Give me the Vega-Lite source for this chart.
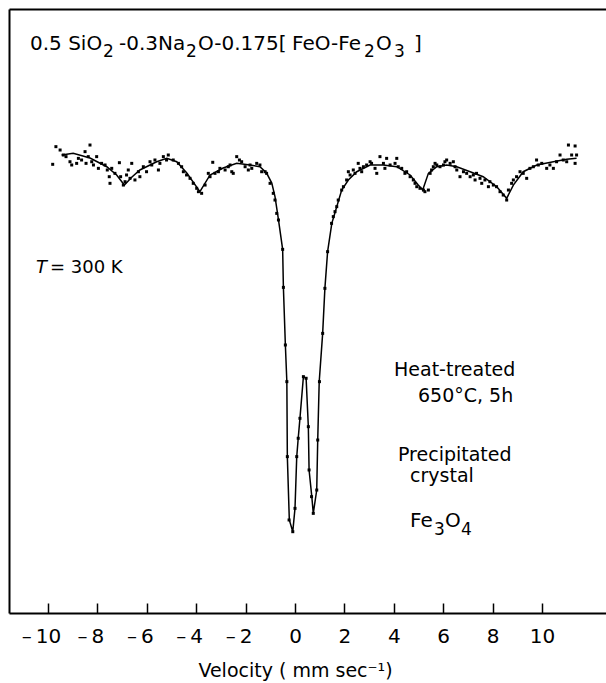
{
  "$schema": "https://vega.github.io/schema/vega-lite/v6.json",
  "width": 597,
  "height": 604,
  "autosize": "none",
  "padding": {"left": 9, "top": 9, "right": 0, "bottom": 70},
  "background": "white",
  "config": {"view": {"stroke": null}, "font": "DejaVu Sans"},
  "datasets": {
    "fit": [
      {"v": -9.45, "t": 99.48}, {"v": -8.98, "t": 99.66}, {"v": -8.30, "t": 99.17}, {"v": -7.62, "t": 98.26},
      {"v": -7.22, "t": 97.40}, {"v": -6.91, "t": 96.35}, {"v": -6.60, "t": 97.19}, {"v": -6.28, "t": 97.92},
      {"v": -5.60, "t": 98.78}, {"v": -5.19, "t": 99.14}, {"v": -4.79, "t": 98.78}, {"v": -4.38, "t": 97.60},
      {"v": -3.85, "t": 95.66}, {"v": -3.44, "t": 97.40}, {"v": -2.91, "t": 98.13}, {"v": -2.36, "t": 98.61},
      {"v": -1.82, "t": 98.44}, {"v": -1.42, "t": 98.26}, {"v": -1.15, "t": 97.60}, {"v": -0.94, "t": 96.56},
      {"v": -0.81, "t": 95.14}, {"v": -0.68, "t": 92.92}, {"v": -0.50, "t": 89.66}, {"v": -0.47, "t": 85.70},
      {"v": -0.39, "t": 79.69}, {"v": -0.33, "t": 75.86}, {"v": -0.31, "t": 68.05}, {"v": -0.23, "t": 61.46},
      {"v": -0.09, "t": 60.24}, {"v": 0.00, "t": 62.68}, {"v": 0.07, "t": 68.05}, {"v": 0.13, "t": 69.97},
      {"v": 0.20, "t": 72.05}, {"v": 0.34, "t": 76.39}, {"v": 0.45, "t": 76.22}, {"v": 0.54, "t": 71.18},
      {"v": 0.57, "t": 66.67}, {"v": 0.68, "t": 63.89}, {"v": 0.74, "t": 62.15}, {"v": 0.88, "t": 64.58},
      {"v": 0.92, "t": 69.79}, {"v": 0.98, "t": 75.86}, {"v": 1.12, "t": 80.90}, {"v": 1.21, "t": 85.59},
      {"v": 1.32, "t": 89.41}, {"v": 1.49, "t": 92.36}, {"v": 1.69, "t": 94.09}, {"v": 1.89, "t": 95.83},
      {"v": 2.16, "t": 96.88}, {"v": 2.50, "t": 97.74}, {"v": 3.04, "t": 98.44}, {"v": 3.57, "t": 98.44},
      {"v": 4.12, "t": 98.26}, {"v": 4.66, "t": 97.40}, {"v": 4.99, "t": 96.35}, {"v": 5.17, "t": 95.83},
      {"v": 5.40, "t": 97.57}, {"v": 5.74, "t": 98.26}, {"v": 6.14, "t": 98.44}, {"v": 6.55, "t": 98.26},
      {"v": 7.09, "t": 97.74}, {"v": 7.62, "t": 97.22}, {"v": 8.17, "t": 96.18}, {"v": 8.57, "t": 94.97},
      {"v": 8.84, "t": 96.35}, {"v": 9.24, "t": 97.74}, {"v": 9.79, "t": 98.44}, {"v": 10.46, "t": 98.78},
      {"v": 11.00, "t": 99.03}, {"v": 11.40, "t": 99.14}
    ],
    "obs": [
      {"v": -9.81, "t": 98.51}, {"v": -9.68, "t": 100.35}, {"v": -9.51, "t": 100.0}, {"v": -9.38, "t": 99.48},
      {"v": -9.27, "t": 99.31}, {"v": -9.11, "t": 98.78}, {"v": -9.04, "t": 98.44}, {"v": -8.84, "t": 98.61},
      {"v": -8.77, "t": 99.13}, {"v": -8.64, "t": 98.96}, {"v": -8.50, "t": 99.83}, {"v": -8.46, "t": 98.61},
      {"v": -8.30, "t": 100.52}, {"v": -8.37, "t": 99.31}, {"v": -8.23, "t": 98.78}, {"v": -8.16, "t": 98.44},
      {"v": -8.03, "t": 99.31}, {"v": -7.96, "t": 98.09}, {"v": -7.83, "t": 98.61}, {"v": -7.69, "t": 98.44},
      {"v": -7.60, "t": 97.92}, {"v": -7.52, "t": 97.22}, {"v": -7.49, "t": 96.53}, {"v": -7.42, "t": 98.09},
      {"v": -7.29, "t": 97.57}, {"v": -7.11, "t": 98.68}, {"v": -7.06, "t": 97.22}, {"v": -6.95, "t": 96.35},
      {"v": -6.88, "t": 96.70}, {"v": -6.82, "t": 97.40}, {"v": -6.75, "t": 97.92}, {"v": -6.68, "t": 97.05},
      {"v": -6.61, "t": 98.61}, {"v": -6.48, "t": 96.88}, {"v": -6.34, "t": 97.74}, {"v": -6.28, "t": 97.22},
      {"v": -6.14, "t": 98.26}, {"v": -6.01, "t": 97.74}, {"v": -5.87, "t": 98.78}, {"v": -5.80, "t": 98.44},
      {"v": -5.67, "t": 98.96}, {"v": -5.53, "t": 97.92}, {"v": -5.47, "t": 98.61}, {"v": -5.33, "t": 99.31},
      {"v": -5.20, "t": 98.96}, {"v": -5.13, "t": 99.48}, {"v": -4.93, "t": 98.96}, {"v": -4.72, "t": 98.61},
      {"v": -4.59, "t": 98.26}, {"v": -4.52, "t": 97.74}, {"v": -4.39, "t": 97.40}, {"v": -4.25, "t": 97.05},
      {"v": -4.12, "t": 96.53}, {"v": -3.98, "t": 96.01}, {"v": -3.91, "t": 95.66}, {"v": -3.78, "t": 95.49},
      {"v": -3.64, "t": 96.35}, {"v": -3.51, "t": 97.57}, {"v": -3.44, "t": 97.22}, {"v": -3.33, "t": 98.72},
      {"v": -3.24, "t": 97.57}, {"v": -3.10, "t": 97.74}, {"v": -3.04, "t": 98.09}, {"v": -2.83, "t": 97.92},
      {"v": -2.70, "t": 98.26}, {"v": -2.63, "t": 98.44}, {"v": -2.56, "t": 97.74}, {"v": -2.50, "t": 97.57},
      {"v": -2.36, "t": 99.31}, {"v": -2.25, "t": 98.96}, {"v": -2.16, "t": 98.78}, {"v": -2.02, "t": 98.26},
      {"v": -1.89, "t": 97.92}, {"v": -1.82, "t": 98.44}, {"v": -1.75, "t": 98.09}, {"v": -1.55, "t": 98.61},
      {"v": -1.42, "t": 98.44}, {"v": -1.35, "t": 97.74}, {"v": -1.21, "t": 97.74}, {"v": -1.15, "t": 97.57},
      {"v": -1.01, "t": 96.53}, {"v": -0.88, "t": 95.49}, {"v": -0.81, "t": 94.79}, {"v": -0.74, "t": 93.40},
      {"v": -0.67, "t": 92.71}, {"v": -0.50, "t": 89.65}, {"v": -0.47, "t": 85.69}, {"v": -0.39, "t": 79.69},
      {"v": -0.33, "t": 75.87}, {"v": -0.31, "t": 68.06}, {"v": -0.24, "t": 61.46}, {"v": -0.09, "t": 60.24},
      {"v": 0.00, "t": 62.67}, {"v": 0.07, "t": 68.06}, {"v": 0.13, "t": 69.97}, {"v": 0.20, "t": 72.05},
      {"v": 0.34, "t": 76.39}, {"v": 0.45, "t": 76.22}, {"v": 0.54, "t": 71.18}, {"v": 0.57, "t": 66.67},
      {"v": 0.67, "t": 63.89}, {"v": 0.74, "t": 62.15}, {"v": 0.88, "t": 64.58}, {"v": 0.92, "t": 69.79},
      {"v": 0.99, "t": 75.87}, {"v": 1.12, "t": 80.90}, {"v": 1.21, "t": 85.59}, {"v": 1.32, "t": 89.41},
      {"v": 1.48, "t": 92.36}, {"v": 1.55, "t": 93.06}, {"v": 1.62, "t": 93.58}, {"v": 1.69, "t": 94.10},
      {"v": 1.75, "t": 94.79}, {"v": 1.89, "t": 95.83}, {"v": 1.96, "t": 96.18}, {"v": 2.09, "t": 96.88},
      {"v": 2.16, "t": 97.74}, {"v": 2.23, "t": 97.40}, {"v": 2.36, "t": 97.92}, {"v": 2.43, "t": 97.57},
      {"v": 2.56, "t": 98.61}, {"v": 2.63, "t": 98.09}, {"v": 2.70, "t": 97.74}, {"v": 2.77, "t": 98.26},
      {"v": 2.90, "t": 98.44}, {"v": 3.04, "t": 98.78}, {"v": 3.10, "t": 98.61}, {"v": 3.24, "t": 98.09},
      {"v": 3.31, "t": 97.57}, {"v": 3.44, "t": 99.31}, {"v": 3.58, "t": 98.61}, {"v": 3.64, "t": 98.09},
      {"v": 3.71, "t": 99.13}, {"v": 3.85, "t": 98.44}, {"v": 4.05, "t": 98.61}, {"v": 4.12, "t": 99.13},
      {"v": 4.18, "t": 98.26}, {"v": 4.32, "t": 98.09}, {"v": 4.45, "t": 97.57}, {"v": 4.52, "t": 97.74},
      {"v": 4.66, "t": 97.22}, {"v": 4.79, "t": 96.88}, {"v": 4.86, "t": 96.53}, {"v": 4.93, "t": 96.18},
      {"v": 5.06, "t": 96.01}, {"v": 5.20, "t": 95.83}, {"v": 5.26, "t": 95.66}, {"v": 5.40, "t": 95.83},
      {"v": 5.47, "t": 97.57}, {"v": 5.53, "t": 97.92}, {"v": 5.60, "t": 98.26}, {"v": 5.67, "t": 98.61},
      {"v": 5.74, "t": 98.44}, {"v": 5.87, "t": 98.26}, {"v": 6.01, "t": 98.44}, {"v": 6.07, "t": 98.78},
      {"v": 6.14, "t": 98.96}, {"v": 6.28, "t": 98.61}, {"v": 6.41, "t": 98.78}, {"v": 6.48, "t": 98.26},
      {"v": 6.55, "t": 97.92}, {"v": 6.68, "t": 97.22}, {"v": 6.82, "t": 97.74}, {"v": 6.95, "t": 97.57},
      {"v": 7.09, "t": 97.22}, {"v": 7.22, "t": 97.40}, {"v": 7.29, "t": 96.88}, {"v": 7.35, "t": 97.57},
      {"v": 7.49, "t": 97.05}, {"v": 7.56, "t": 96.53}, {"v": 7.69, "t": 96.88}, {"v": 7.83, "t": 96.18},
      {"v": 7.89, "t": 96.70}, {"v": 8.03, "t": 96.35}, {"v": 8.16, "t": 96.18}, {"v": 8.30, "t": 95.66},
      {"v": 8.43, "t": 95.31}, {"v": 8.57, "t": 94.79}, {"v": 8.64, "t": 95.83}, {"v": 8.77, "t": 96.53},
      {"v": 8.84, "t": 96.88}, {"v": 8.97, "t": 97.22}, {"v": 9.11, "t": 97.74}, {"v": 9.24, "t": 97.57},
      {"v": 9.38, "t": 97.05}, {"v": 9.51, "t": 98.09}, {"v": 9.65, "t": 98.26}, {"v": 9.78, "t": 98.96},
      {"v": 9.85, "t": 98.44}, {"v": 9.99, "t": 98.61}, {"v": 10.19, "t": 98.09}, {"v": 10.32, "t": 98.44},
      {"v": 10.46, "t": 98.09}, {"v": 10.59, "t": 98.78}, {"v": 10.73, "t": 99.48}, {"v": 10.86, "t": 98.96},
      {"v": 11.00, "t": 98.78}, {"v": 11.07, "t": 100.52}, {"v": 11.20, "t": 99.48}, {"v": 11.34, "t": 98.61},
      {"v": 11.34, "t": 100.42}, {"v": 11.40, "t": 99.48}
    ],
    "formulaMain": [
      {"label": "0.5 SiO", "v": -10.729, "t": 110.42},
      {"label": "-0.3Na", "v": -7.126, "t": 110.42},
      {"label": "O-0.175[", "v": -3.927, "t": 110.42},
      {"label": "FeO-Fe", "v": -0.121, "t": 110.42},
      {"label": "O", "v": 3.279, "t": 110.42},
      {"label": "]", "v": 4.818, "t": 110.42},
      {"label": "Fe", "v": 4.656, "t": 60.73},
      {"label": "O", "v": 6.073, "t": 60.73}
    ],
    "formulaSub": [
      {"label": "2", "v": -7.773, "t": 109.69},
      {"label": "2", "v": -4.413, "t": 109.69},
      {"label": "2", "v": 2.794, "t": 109.69},
      {"label": "3", "v": 4.008, "t": 109.69},
      {"label": "3", "v": 5.628, "t": 59.90},
      {"label": "4", "v": 6.721, "t": 59.90}
    ],
    "notes": [
      {"label": "Heat-treated", "v": 4.01, "t": 77.08},
      {"label": "650°C, 5h", "v": 4.98, "t": 74.38},
      {"label": "Precipitated", "v": 4.17, "t": 68.23},
      {"label": "crystal", "v": 4.66, "t": 66.04}
    ],
    "tempValue": [
      {"label": "= 300 K", "v": -9.92, "t": 87.71}
    ],
    "tempSymbol": [
      {"label": "T", "v": -10.49, "t": 87.71}
    ]
  },
  "layer": [
    {
      "data": {"name": "fit"},
      "mark": {"type": "line", "color": "black", "strokeWidth": 1.5},
      "encoding": {
        "x": {
          "field": "v", "type": "quantitative",
          "scale": {"domain": [-11.579, 12.591], "nice": false, "zero": false},
          "axis": {
            "orient": "bottom", "values": [-10, -8, -6, -4, -2, 0, 2, 4, 6, 8, 10],
            "labelExpr": "datum.value < 0 ? '–\u2009' + format(-datum.value, 'd') : format(datum.value, 'd')",
            "labelOffset": {"condition": {"test": "datum.value < 0", "value": -7}, "value": 0},
            "grid": false, "tickSize": -10, "tickWidth": 1.5, "tickColor": "black",
            "domainColor": "black", "domainWidth": 2,
            "labelFontSize": 20, "labelColor": "black", "labelPadding": 23, "labelFlush": false,
            "title": "Velocity ( mm sec⁻¹)", "titleFontSize": 19, "titleFontWeight": "normal",
            "titleColor": "black", "titlePadding": 15, "titleX": 286
          }
        },
        "y": {
          "field": "t", "type": "quantitative",
          "scale": {"domain": [51.77, 114.69], "nice": false, "zero": false},
          "axis": {"ticks": false, "labels": false, "title": null, "grid": false, "domainColor": "black", "domainWidth": 2}
        }
      }
    },
    {
      "data": {"name": "obs"},
      "mark": {"type": "point", "filled": true, "shape": "square", "size": 9, "color": "black", "opacity": 1},
      "encoding": {
        "x": {
          "field": "v", "type": "quantitative",
          "axis": {"orient": "top", "ticks": false, "labels": false, "title": null, "grid": false, "domainColor": "black", "domainWidth": 2}
        },
        "y": {"field": "t", "type": "quantitative"}
      }
    },
    {
      "data": {"name": "formulaMain"},
      "mark": {"type": "text", "align": "left", "baseline": "alphabetic", "fontSize": 20, "color": "black"},
      "encoding": {
        "x": {"field": "v", "type": "quantitative", "axis": null},
        "y": {"field": "t", "type": "quantitative"},
        "text": {"field": "label"}
      }
    },
    {
      "data": {"name": "formulaSub"},
      "mark": {"type": "text", "align": "left", "baseline": "alphabetic", "fontSize": 17, "color": "black"},
      "encoding": {
        "x": {"field": "v", "type": "quantitative", "axis": null},
        "y": {"field": "t", "type": "quantitative"},
        "text": {"field": "label"}
      }
    },
    {
      "data": {"name": "notes"},
      "mark": {"type": "text", "align": "left", "baseline": "middle", "fontSize": 19, "color": "black"},
      "encoding": {
        "x": {"field": "v", "type": "quantitative", "axis": null},
        "y": {"field": "t", "type": "quantitative"},
        "text": {"field": "label"}
      }
    },
    {
      "data": {"name": "tempValue"},
      "mark": {"type": "text", "align": "left", "baseline": "middle", "fontSize": 18, "color": "black"},
      "encoding": {
        "x": {"field": "v", "type": "quantitative", "axis": null},
        "y": {"field": "t", "type": "quantitative"},
        "text": {"field": "label"}
      }
    },
    {
      "data": {"name": "tempSymbol"},
      "mark": {"type": "text", "align": "left", "baseline": "middle", "fontSize": 18, "fontStyle": "italic", "color": "black"},
      "encoding": {
        "x": {"field": "v", "type": "quantitative", "axis": null},
        "y": {"field": "t", "type": "quantitative"},
        "text": {"field": "label"}
      }
    }
  ],
  "resolve": {"axis": {"x": "independent"}}
}
